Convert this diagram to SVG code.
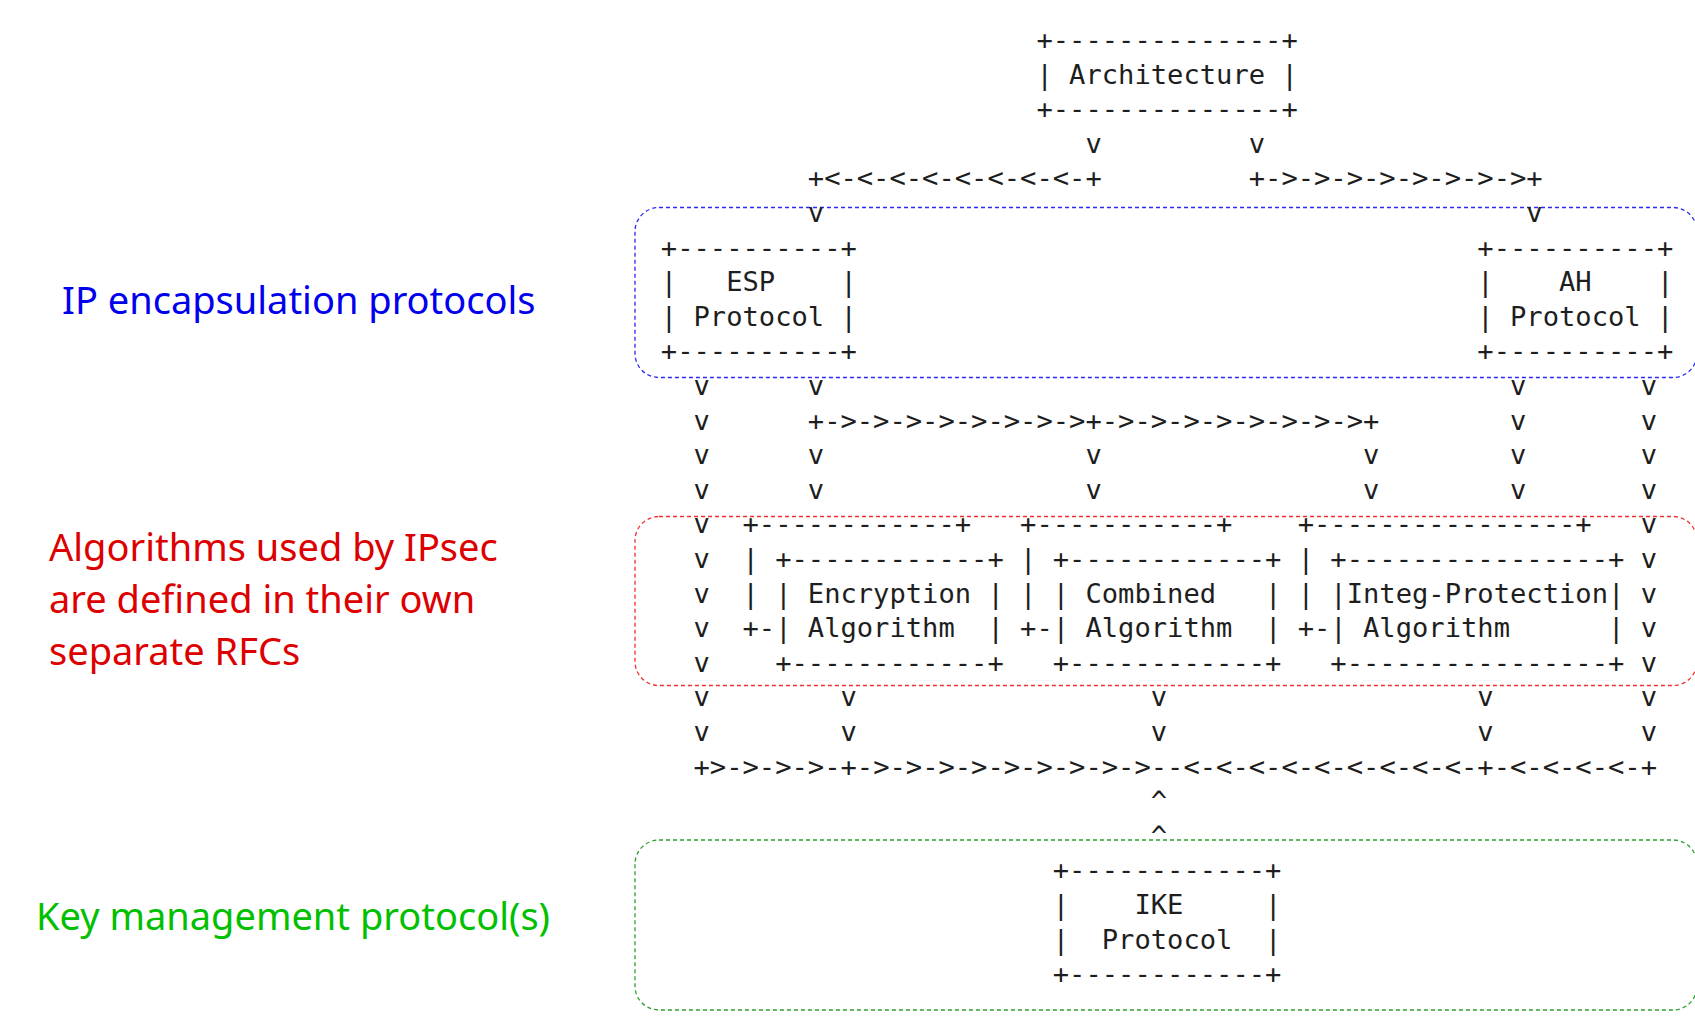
<svg xmlns="http://www.w3.org/2000/svg" width="1695" height="1025" viewBox="0 0 1695 1025" xml:space="preserve">
<style>
.m{font-family:"DejaVu Sans Mono","Liberation Mono",monospace;font-size:27.13px;fill:#1e1e1e;white-space:pre}
.lbl{font-family:"Noto Sans","Open Sans",sans-serif;font-size:38px}
.reg{fill:none;stroke-width:1.3}
</style>
<rect width="1695" height="1025" fill="#ffffff"/>
<g id="regions">
<rect class="reg" x="635" y="207.5" width="1062" height="170" rx="24" stroke="#2a2af0" stroke-dasharray="4 3"/>
<rect class="reg" x="635" y="516.5" width="1062" height="169" rx="24" stroke="#f03030" stroke-dasharray="4 3"/>
<rect class="reg" x="635" y="840" width="1062" height="170" rx="24" stroke="#2e9e2e" stroke-dasharray="4 3"/>
</g>
<g id="labels">
<text class="lbl" x="62" y="314" fill="#0000ee">IP encapsulation protocols</text>
<text class="lbl" x="49" y="560.7" fill="#dd0000">Algorithms used by IPsec</text>
<text class="lbl" x="49" y="613.3" fill="#dd0000">are defined in their own</text>
<text class="lbl" x="49" y="665" fill="#dd0000">separate RFCs</text>
<text class="lbl" x="36" y="930" fill="#00c000">Key management protocol(s)</text>
</g>
<g id="node-architecture">
<text class="m" x="1036.43" y="48.9">+--------------+</text>
<text class="m" x="1036.43" y="83.5">| Architecture |</text>
<text class="m" x="1036.43" y="118.1">+--------------+</text>
</g>
<g id="node-esp">
<text class="m" x="660.84" y="256.5">+----------+</text>
<text class="m" x="660.84" y="291.1">|   ESP    |</text>
<text class="m" x="660.84" y="325.7">| Protocol |</text>
<text class="m" x="660.84" y="360.3">+----------+</text>
</g>
<g id="node-ah">
<text class="m" x="1477.34" y="256.5">+----------+</text>
<text class="m" x="1477.34" y="291.1">|    AH    |</text>
<text class="m" x="1477.34" y="325.7">| Protocol |</text>
<text class="m" x="1477.34" y="360.3">+----------+</text>
</g>
<g id="node-encryption">
<text class="m" x="775.15" y="567.9">+------------+</text>
<text class="m" x="775.15" y="602.5">| Encryption |</text>
<text class="m" x="775.15" y="637.1">| Algorithm  |</text>
<text class="m" x="775.15" y="671.7">+------------+</text>
</g>
<g id="node-combined">
<text class="m" x="1052.76" y="567.9">+------------+</text>
<text class="m" x="1052.76" y="602.5">| Combined   |</text>
<text class="m" x="1052.76" y="637.1">| Algorithm  |</text>
<text class="m" x="1052.76" y="671.7">+------------+</text>
</g>
<g id="node-integ">
<text class="m" x="1330.37" y="567.9">+----------------+</text>
<text class="m" x="1330.37" y="602.5">|Integ-Protection|</text>
<text class="m" x="1330.37" y="637.1">| Algorithm      |</text>
<text class="m" x="1330.37" y="671.7">+----------------+</text>
</g>
<g id="node-ike">
<text class="m" x="1052.76" y="879.3">+------------+</text>
<text class="m" x="1052.76" y="913.9">|    IKE     |</text>
<text class="m" x="1052.76" y="948.5">|  Protocol  |</text>
<text class="m" x="1052.76" y="983.1">+------------+</text>
</g>
<g id="connectors">
<text class="m" x="1085.42" y="152.7">v</text>
<text class="m" x="1248.72" y="152.7">v</text>
<text class="m" x="807.81" y="187.3">+&lt;-&lt;-&lt;-&lt;-&lt;-&lt;-&lt;-&lt;-+</text>
<text class="m" x="1248.72" y="187.3">+-&gt;-&gt;-&gt;-&gt;-&gt;-&gt;-&gt;-&gt;+</text>
<text class="m" x="807.81" y="221.9">v</text>
<text class="m" x="1526.33" y="221.9">v</text>
<text class="m" x="693.5" y="394.9">v</text>
<text class="m" x="807.81" y="394.9">v</text>
<text class="m" x="1510" y="394.9">v</text>
<text class="m" x="1640.64" y="394.9">v</text>
<text class="m" x="693.5" y="429.5">v</text>
<text class="m" x="807.81" y="429.5">+-&gt;-&gt;-&gt;-&gt;-&gt;-&gt;-&gt;-&gt;+-&gt;-&gt;-&gt;-&gt;-&gt;-&gt;-&gt;-&gt;+</text>
<text class="m" x="1510" y="429.5">v</text>
<text class="m" x="1640.64" y="429.5">v</text>
<text class="m" x="693.5" y="464.1">v</text>
<text class="m" x="807.81" y="464.1">v</text>
<text class="m" x="1085.42" y="464.1">v</text>
<text class="m" x="1363.03" y="464.1">v</text>
<text class="m" x="1510" y="464.1">v</text>
<text class="m" x="1640.64" y="464.1">v</text>
<text class="m" x="693.5" y="498.7">v</text>
<text class="m" x="807.81" y="498.7">v</text>
<text class="m" x="1085.42" y="498.7">v</text>
<text class="m" x="1363.03" y="498.7">v</text>
<text class="m" x="1510" y="498.7">v</text>
<text class="m" x="1640.64" y="498.7">v</text>
<text class="m" x="693.5" y="533.3">v</text>
<text class="m" x="742.49" y="533.3">+------------+</text>
<text class="m" x="1020.1" y="533.3">+-----------+</text>
<text class="m" x="1297.71" y="533.3">+----------------+</text>
<text class="m" x="1640.64" y="533.3">v</text>
<text class="m" x="693.5" y="567.9">v</text>
<text class="m" x="742.49" y="567.9">|</text>
<text class="m" x="1020.1" y="567.9">|</text>
<text class="m" x="1297.71" y="567.9">|</text>
<text class="m" x="1640.64" y="567.9">v</text>
<text class="m" x="693.5" y="602.5">v</text>
<text class="m" x="742.49" y="602.5">|</text>
<text class="m" x="1020.1" y="602.5">|</text>
<text class="m" x="1297.71" y="602.5">|</text>
<text class="m" x="1640.64" y="602.5">v</text>
<text class="m" x="693.5" y="637.1">v</text>
<text class="m" x="742.49" y="637.1">+-</text>
<text class="m" x="1020.1" y="637.1">+-</text>
<text class="m" x="1297.71" y="637.1">+-</text>
<text class="m" x="1640.64" y="637.1">v</text>
<text class="m" x="693.5" y="671.7">v</text>
<text class="m" x="1640.64" y="671.7">v</text>
<text class="m" x="693.5" y="706.3">v</text>
<text class="m" x="840.47" y="706.3">v</text>
<text class="m" x="1150.74" y="706.3">v</text>
<text class="m" x="1477.34" y="706.3">v</text>
<text class="m" x="1640.64" y="706.3">v</text>
<text class="m" x="693.5" y="740.9">v</text>
<text class="m" x="840.47" y="740.9">v</text>
<text class="m" x="1150.74" y="740.9">v</text>
<text class="m" x="1477.34" y="740.9">v</text>
<text class="m" x="1640.64" y="740.9">v</text>
<text class="m" x="693.5" y="775.5">+&gt;-&gt;-&gt;-&gt;-+-&gt;-&gt;-&gt;-&gt;-&gt;-&gt;-&gt;-&gt;-&gt;--&lt;-&lt;-&lt;-&lt;-&lt;-&lt;-&lt;-&lt;-&lt;-+-&lt;-&lt;-&lt;-&lt;-+</text>
<text class="m" x="1150.74" y="810.1">^</text>
<text class="m" x="1150.74" y="844.7">^</text>
</g>
</svg>
